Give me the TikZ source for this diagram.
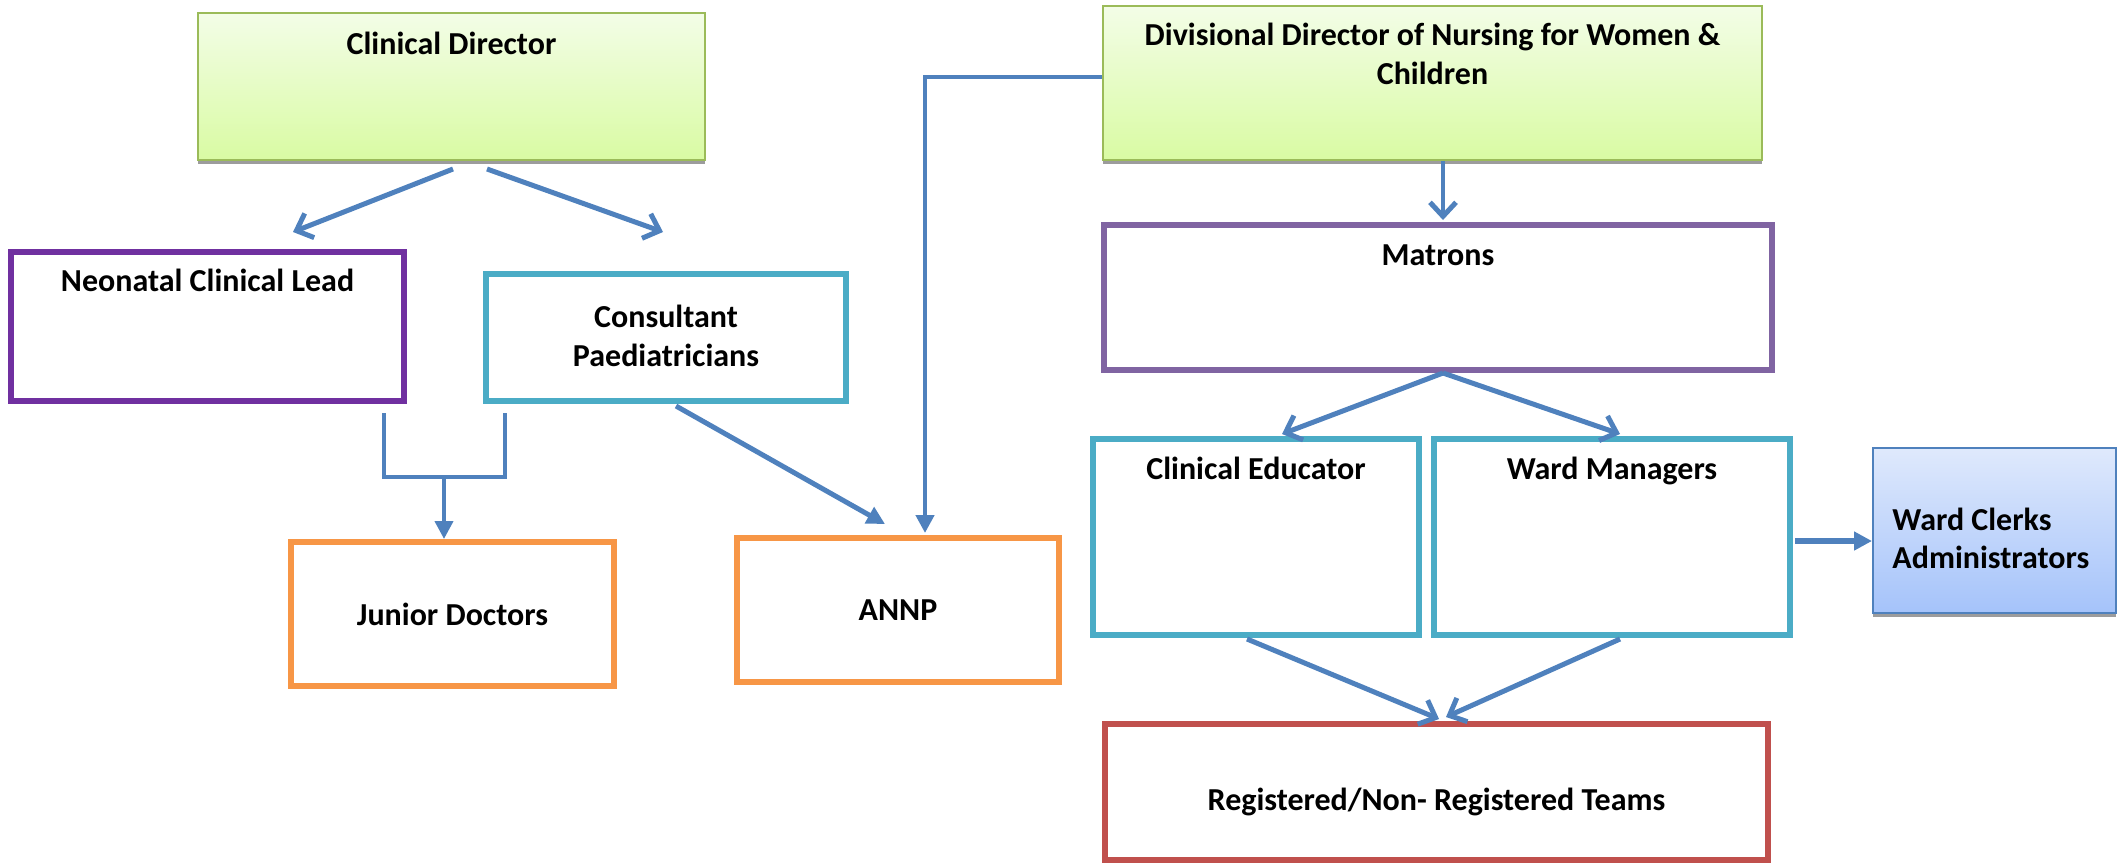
\documentclass[tikz,border=0pt]{standalone}
\usepackage{fontspec}
\setmainfont{Carlito}
\usetikzlibrary{arrows.meta,calc,positioning,shadows}
\definecolor{linkblue}{HTML}{4F81BD}
\definecolor{chiefline}{HTML}{9BBB59}
\definecolor{chieftop}{HTML}{F3FDE7}
\definecolor{chiefbot}{HTML}{D9FBA3}
\definecolor{clerktop}{HTML}{DFE9FC}
\definecolor{clerkbot}{HTML}{A5C3FA}
\definecolor{shadowgray}{HTML}{9C9C9C}
\definecolor{leadpurple}{HTML}{7030A0}
\definecolor{matronpurple}{HTML}{8064A2}
\definecolor{teamteal}{HTML}{4BACC6}
\definecolor{staffamber}{HTML}{F79646}
\definecolor{teamred}{HTML}{C0504D}
\tikzstyle{post}=[rectangle, draw, inner sep=0pt, line width=3pt, align=center,
    font=\bfseries\fontsize{16}{19.5}\selectfont]
\tikzstyle{chief}=[post, draw=chiefline, line width=1pt, top color=chieftop, bottom color=chiefbot,
    drop shadow={shadow xshift=0pt, shadow yshift=-2pt, fill=shadowgray, opacity=1}]
\tikzstyle{clerk}=[post, draw=linkblue, line width=1pt, top color=clerktop, bottom color=clerkbot,
    drop shadow={shadow xshift=0pt, shadow yshift=-2pt, fill=shadowgray, opacity=1}]
\tikzstyle{lbl}=[inner sep=0pt, align=center, font=\bfseries\fontsize{16}{19.5}\selectfont]
\newcommand{\post}{\node[post]}

\begin{document}
\begin{tikzpicture}[x=0.5pt, y=-0.5pt
    ,link/.style={draw=linkblue, line width=2.5pt}
    ,opento/.style={link, -{Straight Barb[length=7pt,width=13pt,line width=2.5pt]}}
    ,fillto/.style={link, -{Triangle[length=9pt,width=9pt]}}
]
\useasboundingbox (0,0) rectangle (2118,863);
% medical side
\node[chief, minimum width=253.5pt, minimum height=73.5pt] (cd) at (451.5,86.5) {};
\node[lbl, below=10pt of cd.north] (cdtxt) {Clinical Director};
\post[draw=leadpurple, minimum width=196.5pt, minimum height=74.5pt] (ncl) at (207.5,326.5) {};
\node[lbl, below=10pt of ncl.north] (ncltxt) {Neonatal Clinical Lead};
\post[draw=teamteal, minimum width=180pt, minimum height=63.5pt] (cp) at (666,337.5) {};
\node[lbl, below=17pt of cp.north] (cptxt) {Consultant\\Paediatricians};
\post[draw=staffamber, minimum width=161.5pt, minimum height=72pt] (jd) at (452.5,614) {Junior Doctors};
\post[draw=staffamber, minimum width=161pt, minimum height=72pt] (annp) at (898,610) {ANNP};
% nursing side
\node[chief, minimum width=329.5pt, minimum height=77pt] (ddn) at (1432.5,83) {};
\node[lbl, below=9pt of ddn.north] (ddntxt) {Divisional Director of Nursing for Women \&\\Children};
\post[draw=matronpurple, minimum width=334pt, minimum height=72.5pt] (mat) at (1438,297.5) {};
\node[lbl, below=11pt of mat.north] (mattxt) {Matrons};
\post[draw=teamteal, minimum width=163pt, minimum height=98pt] (ce) at (1256,537) {};
\node[lbl, below=10.5pt of ce.north] (cetxt) {Clinical Educator};
\post[draw=teamteal, minimum width=178pt, minimum height=98pt] (wm) at (1612,537) {};
\node[lbl, below=10.5pt of wm.north] (wmtxt) {Ward Managers};
\node[clerk, minimum width=121.5pt, minimum height=82.5pt] (wc) at (1994.5,530.5) {};
\node[lbl, anchor=north west, inner sep=0pt] (wctxt) at ($(wc.north west)+(20,56)$)
    {\begin{tabular}{@{}l@{}}Ward Clerks\\[-0.5pt]Administrators\end{tabular}};
\post[draw=teamred, minimum width=331.5pt, minimum height=68pt] (reg) at (1436.5,792) {};
\node[lbl] (regtxt) at ($(reg.center)+(0,10)$) {Registered/Non- Registered Teams};

\draw[opento] ($(cd.south)+(1.5,8)$) -- ($(ncl.north)+(85.5,-17)$);
\draw[opento] ($(cd.south)+(35.5,8)$) -- ($(cp.north)+(-3,-39)$);
\draw[link, line width=2pt] ($(ncl.south east)+(-23,9)$) -- ++(0,64) -- ++(121,0) -- ++(0,-64);
\coordinate (jmid) at ($(ncl.south east)+(37,73)$);
\draw[fillto, line width=2pt] (jmid) -- (jmid |- jd.north);
\draw[fillto] ($(cp.south)+(10,2)$) -- ($(annp.north)+(-13,-11)$);
\draw[fillto, line width=2.2pt] ($(ddn.west)+(0,-6)$) -| ($(annp.north)+(27,-2)$);
\draw[opento, line width=2pt] ($(ddn.south)+(10.5,0)$) -- ($(mat.north)+(5,-2)$);
\draw[opento] ($(mat.south)+(5,0)$) -- ($(ce.north)+(26,-2)$);
\draw[opento] ($(mat.south)+(5,0)$) -- ($(wm.north)+(8,-2)$);
\draw[opento] ($(ce.south)+(-9,1)$) -- ($(reg.north)+(2.5,-2)$);
\draw[opento] ($(wm.south)+(8,1)$) -- ($(reg.north)+(9.5,-4)$);
\coordinate (wmout) at ($(wm.east)+(2,4)$);
\draw[fillto, line width=3pt] (wmout) -- (wmout -| wc.west);
\end{tikzpicture}
\end{document}
